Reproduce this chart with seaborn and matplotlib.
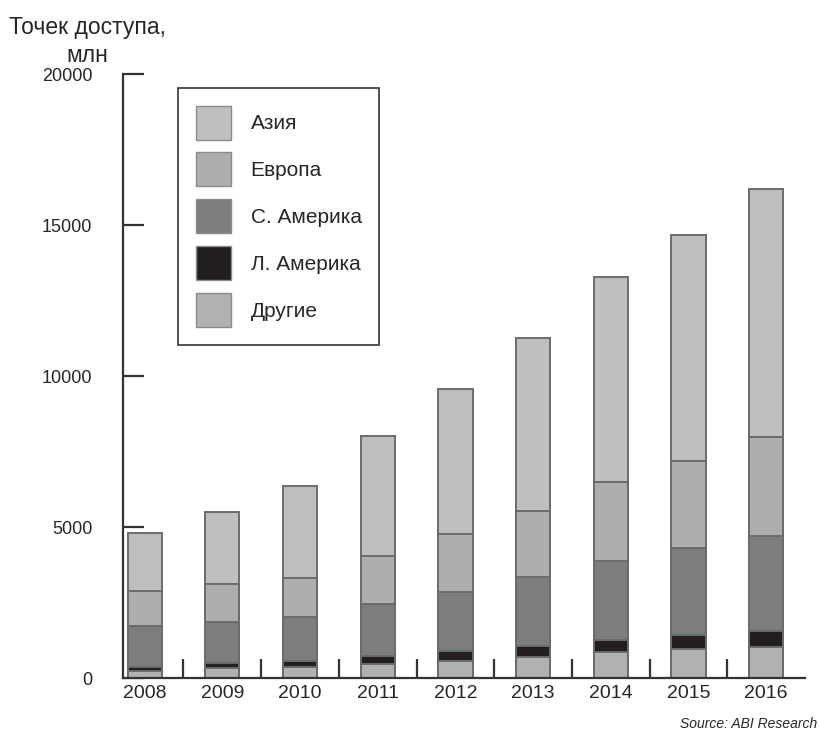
import numpy as np
import pandas as pd
import matplotlib
matplotlib.use("Agg")
import matplotlib.pyplot as plt
import seaborn as sns
from matplotlib.patches import Patch

# data (mln access points)
years = ["2008", "2009", "2010", "2011", "2012", "2013", "2014", "2015", "2016"]
others = [230, 330, 365, 460, 560, 700, 855, 970, 1020]
latin_am = [135, 170, 195, 270, 330, 360, 415, 450, 550]
north_am = [1355, 1350, 1460, 1720, 1960, 2280, 2600, 2870, 3120]
europe = [1160, 1260, 1290, 1590, 1920, 2200, 2620, 2910, 3290]
asia = [1920, 2380, 3050, 3970, 4800, 5710, 6780, 7460, 8220]

regions = ["Азия", "Европа", "С. Америка", "Л. Америка", "Другие"]
colors = {"Азия": "#bebfc1", "Европа": "#adaeb0", "С. Америка": "#7c7d7f",
          "Л. Америка": "#231f20", "Другие": "#b0b1b3"}

sns.set_style("white")
plt.rcParams["font.family"] = ["Liberation Sans", "DejaVu Sans"]

df = pd.DataFrame({"year": years, "Другие": others, "Л. Америка": latin_am,
                   "С. Америка": north_am, "Европа": europe, "Азия": asia})
# cumulative heights, bottom layer first
stack_order = ["Другие", "Л. Америка", "С. Америка", "Европа", "Азия"]
cum = df[stack_order].cumsum(axis=1)

fig = plt.figure(figsize=(8.19, 7.33), dpi=100)
ax = fig.add_axes([0.150, 0.075, 0.833, 0.824])

# draw tallest first, then overlap the lower layers
for reg in stack_order[::-1]:
    sns.barplot(x=df["year"], y=cum[reg], color=colors[reg], width=0.44,
                edgecolor="#6a6b6d", linewidth=1.4, saturation=1, ax=ax)

ax.set_xlim(-0.28, 8.5)
ax.set_ylim(0, 20000)
ax.set_yticks([0, 5000, 10000, 15000, 20000])
ax.set_xticks(np.arange(len(years)))
ax.set_xticklabels(years, fontsize=14)
ax.set_xticks(np.arange(len(years) - 1) + 0.5, minor=True)
ax.tick_params(axis="x", which="major", bottom=False, length=0, pad=5)
ax.tick_params(axis="x", which="minor", bottom=True, direction="in", length=14,
               width=1.6, color="#333333")
ax.tick_params(axis="y", left=True, direction="in", length=15, width=1.6,
               color="#333333", labelsize=13, pad=22)
ax.set_xlabel("")
ax.set_ylabel("")
sns.despine(ax=ax)
for s in ["left", "bottom"]:
    ax.spines[s].set_linewidth(1.6)
    ax.spines[s].set_color("#333333")

fig.text(0.107, 0.978, "Точек доступа,\nмлн", ha="center", va="top",
         fontsize=16.5, linespacing=1.25)
fig.text(0.998, 0.012, "Source: ABI Research", ha="right", va="center",
         fontsize=10, style="italic")

handles = [Patch(facecolor=colors[r], edgecolor="#8a8b8d", linewidth=1) for r in regions]
leg = ax.legend(handles, regions, loc="upper left", bbox_to_anchor=(0.0806, 0.977),
                frameon=True, fancybox=False, edgecolor="black", fontsize=15,
                handlelength=1.68, handleheight=2.13, handletextpad=0.96,
                labelspacing=0.62, borderpad=0.85, borderaxespad=0)
leg.get_frame().set_linewidth(1.2)

fig.savefig("out.png", dpi=100)
